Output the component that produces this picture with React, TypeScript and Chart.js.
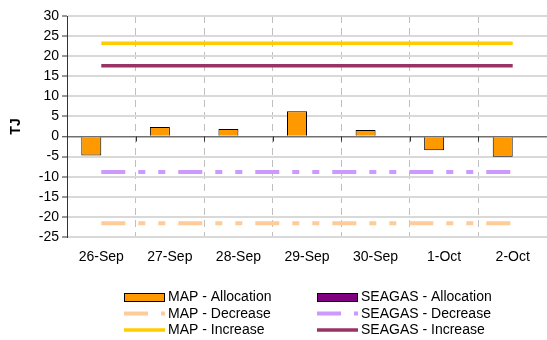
import React, { useEffect, useRef } from "react";
import { Chart, registerables } from "chart.js";

Chart.register(...registerables);

const categories = ["26-Sep", "27-Sep", "28-Sep", "29-Sep", "30-Sep", "1-Oct", "2-Oct"];
const mapAllocation = [-4.7, 2.4, 1.9, 6.3, 1.6, -3.4, -5.0];
const seagasAllocation = [0.2, 0, 0, 0, 0, 0, 0];
const mapDecrease = [-21.6, -21.6, -21.6, -21.6, -21.6, -21.6, -21.6];
const seagasDecrease = [-8.8, -8.8, -8.8, -8.8, -8.8, -8.8, -8.8];
const mapIncrease = [23.2, 23.2, 23.2, 23.2, 23.2, 23.2, 23.2];
const seagasIncrease = [17.6, 17.6, 17.6, 17.6, 17.6, 17.6, 17.6];
const yMin = -25;
const yMax = 30;
const yStep = 5;
const yTitle = "TJ";

const FONT = "'Liberation Sans', Arial, sans-serif";
const DASH = [24, 13, 7, 13, 7, 13];

const legendPlugin = {
  id: "customLegend",
  afterDraw(chart: any) {
    const ctx = chart.ctx as CanvasRenderingContext2D;
    const ds = chart.data.datasets;
    const order = [0, 1, 2, 3, 4, 5];
    const colX = [124, 317];
    const textX = [168, 361];
    const rowY = [297, 313.5, 330];
    ctx.save();
    ctx.font = `14px ${FONT}`;
    ctx.textBaseline = "middle";
    ctx.fillStyle = "#000";
    order.forEach((idx, k) => {
      const d = ds[idx];
      const col = k % 2;
      const row = Math.floor(k / 2);
      const x = colX[col];
      const y = rowY[row];
      if (d.type === "bar") {
        ctx.fillStyle = d.backgroundColor;
        ctx.fillRect(x, y - 4, 40, 8);
        ctx.strokeStyle = "#000";
        ctx.lineWidth = 1;
        ctx.strokeRect(x + 0.5, y - 3.5, 40, 8);
      } else {
        ctx.beginPath();
        ctx.strokeStyle = d.borderColor;
        ctx.lineWidth = d.borderWidth;
        ctx.lineCap = "butt";
        ctx.setLineDash(d.borderDash || []);
        ctx.moveTo(x, y);
        ctx.lineTo(x + 41, y);
        ctx.stroke();
        ctx.setLineDash([]);
      }
      ctx.fillStyle = "#000";
      ctx.fillText(d.label, textX[col], y + 0.5);
    });
    ctx.restore();
  },
};

const zeroTicksPlugin = {
  id: "zeroTicks",
  afterDatasetsDraw(chart: any) {
    const ctx = chart.ctx as CanvasRenderingContext2D;
    const xs = chart.scales.x;
    const ys = chart.scales.y;
    const y0 = ys.getPixelForValue(0);
    const n = chart.data.labels.length;
    const w = (xs.right - xs.left) / n;
    ctx.save();
    ctx.strokeStyle = "#333";
    ctx.lineWidth = 1;
    for (let i = 1; i < n; i++) {
      const x = Math.round(xs.left + i * w) + 0.5;
      ctx.beginPath();
      ctx.moveTo(x, y0);
      ctx.lineTo(x, y0 + 5);
      ctx.stroke();
    }
    ctx.restore();
  },
};

export default function App() {
  const ref = useRef<HTMLCanvasElement | null>(null);

  useEffect(() => {
    if (!ref.current) return;
    Chart.defaults.font.family = FONT;
    Chart.defaults.color = "#000";
    const chart = new Chart(ref.current, {
      type: "bar",
      data: {
        labels: categories,
        datasets: [
          {
            type: "bar",
            label: "MAP - Allocation",
            data: mapAllocation,
            backgroundColor: "#FF9900",
            borderColor: "#000",
            borderWidth: 1,
            categoryPercentage: 0.583,
            barPercentage: 1,
          },
          {
            type: "bar",
            label: "SEAGAS - Allocation",
            data: seagasAllocation,
            backgroundColor: "#800080",
            borderColor: "#000",
            borderWidth: 1,
            categoryPercentage: 0.583,
            barPercentage: 1,
          },
          {
            type: "line",
            label: "MAP - Decrease",
            data: mapDecrease,
            borderColor: "#FFCC99",
            borderWidth: 4,
            borderDash: DASH,
            borderCapStyle: "butt",
            pointRadius: 0,
            fill: false,
          },
          {
            type: "line",
            label: "SEAGAS - Decrease",
            data: seagasDecrease,
            borderColor: "#CC99FF",
            borderWidth: 4,
            borderDash: DASH,
            borderCapStyle: "butt",
            pointRadius: 0,
            fill: false,
          },
          {
            type: "line",
            label: "MAP - Increase",
            data: mapIncrease,
            borderColor: "#FFCC00",
            borderWidth: 3.5,
            pointRadius: 0,
            fill: false,
          },
          {
            type: "line",
            label: "SEAGAS - Increase",
            data: seagasIncrease,
            borderColor: "#993366",
            borderWidth: 3.5,
            pointRadius: 0,
            fill: false,
          },
        ],
      } as any,
      options: {
        responsive: false,
        animation: false,
        layout: { padding: { left: 0, right: 0, top: 16, bottom: 73 } },
        plugins: {
          legend: { display: false },
          tooltip: { enabled: false },
          title: { display: false },
        },
        scales: {
          x: {
            offset: true,
            grid: {
              offset: true,
              color: "#c0c0c0",
              lineWidth: 1,
              drawTicks: false,
            },
            border: { display: false, dash: [7, 5] },
            ticks: { font: { size: 14 }, padding: 12, color: "#000", maxRotation: 0 },
            afterFit(scale: any) {
              scale.height = 30;
            },
          },
          y: {
            min: yMin,
            max: yMax,
            ticks: { stepSize: yStep, font: { size: 14 }, padding: 3, color: "#000" },
            grid: {
              color: (c: any) => (c.tick && c.tick.value === 0 ? "#707070" : "#d9d9d9"),
              lineWidth: (c: any) => (c.tick && c.tick.value === 0 ? 1.5 : 2),
              tickColor: "#333",
              tickWidth: 1,
              tickLength: 5,
            },
            border: { display: true, color: "#333", width: 1 },
            title: {
              display: true,
              text: yTitle,
              font: { size: 14, weight: "bold" },
              padding: { top: 8, bottom: 4 },
              color: "#000",
            },
            afterFit(scale: any) {
              scale.width = 67;
            },
          },
        },
      } as any,
      plugins: [legendPlugin, zeroTicksPlugin],
    });
    return () => chart.destroy();
  }, []);

  return (
    <div style={{ position: "fixed", left: 0, top: 0, width: 547, height: 340, background: "#fff" }}>
      <canvas ref={ref} width={547} height={340} />
    </div>
  );
}
